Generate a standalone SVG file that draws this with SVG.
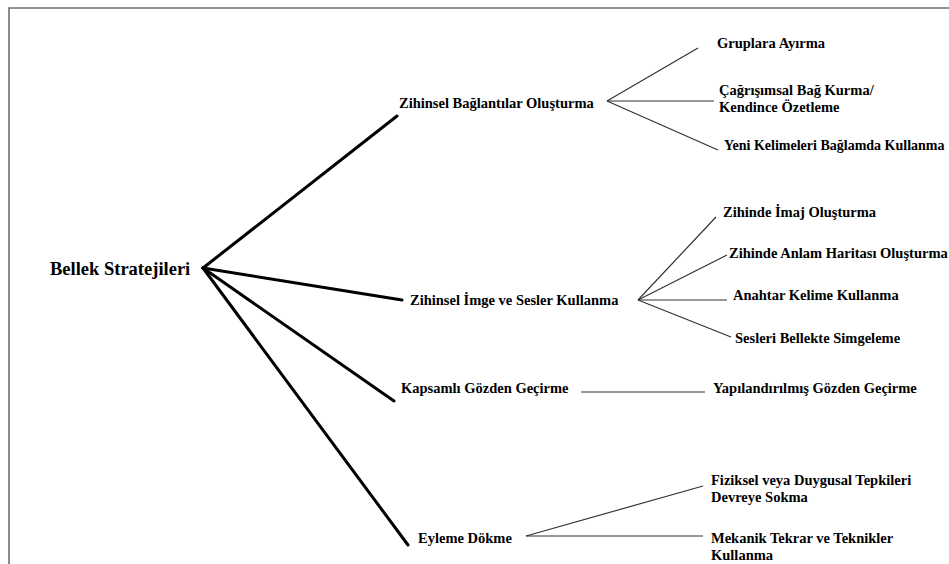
<svg xmlns="http://www.w3.org/2000/svg" width="949" height="564" viewBox="0 0 949 564">
<style>
  .t { font-family: 'Liberation Serif', 'Times New Roman', serif; font-weight: 700; fill: #000; }
  .root { font-size: 18.5px; }
  .lbl { font-size: 14.5px; }
  .narrow { font-size: 14px; }
  .main { stroke: #000; stroke-width: 3; fill: none; stroke-linecap: round; }
  .sub { stroke: #333; stroke-width: 1.2; fill: none; }
  .frame { stroke: #6f6f6f; stroke-width: 1.6; fill: none; }
</style>
<rect width="949" height="564" fill="#fff"/>
<path class="frame" d="M9,564 V8 H949"/>
<g id="connectors">
  <line class="main" x1="203" y1="268" x2="397" y2="116"/>
  <line class="main" x1="203" y1="268" x2="402" y2="300"/>
  <line class="main" x1="203" y1="268" x2="394" y2="401"/>
  <line class="main" x1="203" y1="268" x2="408" y2="545"/>
  <line class="sub" x1="607" y1="101" x2="698" y2="48"/>
  <line class="sub" x1="607" y1="101" x2="714" y2="101"/>
  <line class="sub" x1="607" y1="101" x2="718" y2="150"/>
  <line class="sub" x1="638" y1="300" x2="716" y2="217"/>
  <line class="sub" x1="638" y1="300" x2="727" y2="255"/>
  <line class="sub" x1="638" y1="300" x2="727" y2="300"/>
  <line class="sub" x1="638" y1="300" x2="731" y2="337"/>
  <line class="sub" x1="581" y1="392" x2="705" y2="392"/>
  <line class="sub" x1="526" y1="536" x2="703" y2="486"/>
  <line class="sub" x1="526" y1="536" x2="703" y2="536"/>
</g>
<g id="root"><text class="t root" x="50" y="275">Bellek Stratejileri</text></g>
<g id="n1"><text class="t lbl" x="399" y="108">Zihinsel Bağlantılar Oluşturma</text></g>
<g id="n1a"><text class="t lbl" x="717" y="48">Gruplara Ayırma</text></g>
<g id="n1b"><text class="t lbl" x="719" y="95">Çağrışımsal Bağ Kurma/</text><text class="t lbl" x="719" y="112">Kendince Özetleme</text></g>
<g id="n1c"><text class="t narrow" x="724" y="150">Yeni Kelimeleri Bağlamda Kullanma</text></g>
<g id="n2"><text class="t lbl" x="410" y="305">Zihinsel İmge ve Sesler Kullanma</text></g>
<g id="n2a"><text class="t lbl" x="723" y="217">Zihinde İmaj Oluşturma</text></g>
<g id="n2b"><text class="t lbl" x="729" y="258">Zihinde Anlam Haritası Oluşturma</text></g>
<g id="n2c"><text class="t lbl" x="733" y="300">Anahtar Kelime Kullanma</text></g>
<g id="n2d"><text class="t lbl" x="735" y="343">Sesleri Bellekte Simgeleme</text></g>
<g id="n3"><text class="t lbl" x="401" y="393">Kapsamlı Gözden Geçirme</text></g>
<g id="n3a"><text class="t lbl" x="713" y="393">Yapılandırılmış Gözden Geçirme</text></g>
<g id="n4"><text class="t lbl" x="418" y="543">Eyleme Dökme</text></g>
<g id="n4a"><text class="t lbl" x="711" y="485">Fiziksel veya Duygusal Tepkileri</text><text class="t lbl" x="711" y="502">Devreye Sokma</text></g>
<g id="n4b"><text class="t lbl" x="711" y="543">Mekanik Tekrar ve Teknikler</text><text class="t lbl" x="711" y="560">Kullanma</text></g>
</svg>
